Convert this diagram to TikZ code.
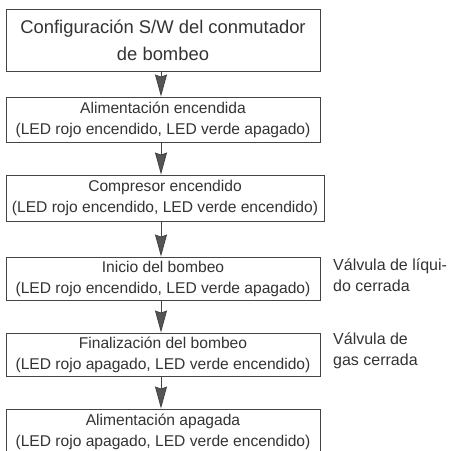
\documentclass[tikz,border=0pt]{standalone}
\usepackage{fontspec}
\setmainfont{Liberation Sans}
\usetikzlibrary{arrows.meta,calc}
\definecolor{ink}{HTML}{333333}
\definecolor{linec}{HTML}{444444}
\definecolor{arrc}{HTML}{555555}
\begin{document}
\begin{tikzpicture}[x=1pt,y=-1pt,
  stepbox/.style={draw=linec,line width=0.9pt,inner sep=0pt,align=center,text=ink,
    font=\fontsize{15.6}{21}\selectfont},
  sidelabel/.style={anchor=west,inner sep=0pt,align=left,text=ink,
    font=\fontsize{16}{21}\selectfont},
  flow/.style={draw=linec,line width=0.9pt,-{Stealth[length=22pt,width=12pt,inset=2pt,fill=arrc]}}]
\useasboundingbox (0,0) rectangle (449,451);
\clip (0,0) rectangle (449,451);
\node[stepbox,minimum width=314pt,minimum height=62pt,font=\fontsize{18.4}{27}\selectfont] (b1) at (163,40) {Configuración S/W del conmutador\\de bombeo};
\node[stepbox,minimum width=314pt,minimum height=45pt] (b2) at (163,119.5) {Alimentación encendida\\(LED rojo encendido, LED verde apagado)};
\node[stepbox,minimum width=318pt,minimum height=46pt] (b3) at (165,198) {Compresor encendido\\(LED rojo encendido, LED verde encendido)};
\node[stepbox,minimum width=314pt,minimum height=43pt] (b4) at (163,278.5) {Inicio del bombeo\\(LED rojo encendido, LED verde apagado)};
\node[stepbox,minimum width=314pt,minimum height=43pt] (b5) at (163,354.5) {Finalización del bombeo\\(LED rojo apagado, LED verde encendido)};
\node[stepbox,minimum width=314pt,minimum height=45pt] (b6) at (163,431.5) {Alimentación apagada\\(LED rojo apagado, LED verde encendido)};
\node[sidelabel] (l1) at (333,275.5) {Válvula de líqui-\\do cerrada};
\node[sidelabel] (l2) at (333,351) {Válvula de\\gas cerrada};
\coordinate (ax) at (161,0);
\draw[flow] (b1.south -| ax) -- (b2.north -| ax);
\draw[flow] (b2.south -| ax) -- (b3.north -| ax);
\draw[flow] (b3.south -| ax) -- (b4.north -| ax);
\draw[flow] (b4.south -| ax) -- (b5.north -| ax);
\draw[flow] (b5.south -| ax) -- (b6.north -| ax);
\end{tikzpicture}
\end{document}
